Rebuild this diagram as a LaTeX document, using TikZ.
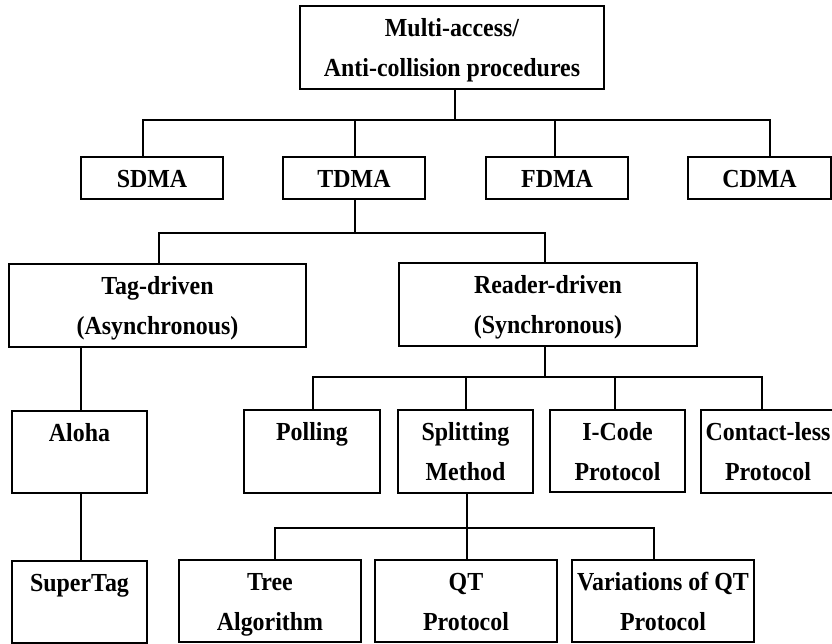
\documentclass[tikz,border=0pt]{standalone}
\usepackage{fontspec}
\setmainfont{Liberation Serif}[FakeStretch=0.92]
% box content: fixed width/height, text hung from the top edge
\newcommand{\boxtext}[3]{\parbox[c][#2][t]{#1}{\centering\fontsize{26}{40}\selectfont\bfseries\rule{0pt}{30.5pt}#3}}
\begin{document}
\begin{tikzpicture}[x=1pt,y=-1pt,
  box/.style={draw=black, line width=1.9pt, inner sep=0pt, outer sep=0pt, anchor=north west},
  link/.style={draw=black, line width=2.8pt, line cap=rect}]
\useasboundingbox (0,0) rectangle (832,644);

% level 0
\node[box] (root) at (300,6) {\boxtext{304pt}{83pt}{Multi-access/\\Anti-collision procedures}};
% level 1
\node[box] (sdma) at (81,157)  {\boxtext{142pt}{42pt}{SDMA}};
\node[box] (tdma) at (283,157) {\boxtext{142pt}{42pt}{TDMA}};
\node[box] (fdma) at (486,157) {\boxtext{142pt}{42pt}{FDMA}};
\node[box] (cdma) at (688,157) {\boxtext{143pt}{42pt}{CDMA}};
% level 2
\node[box] (tag)    at (9,264)   {\boxtext{297pt}{83pt}{Tag-driven\\(Asynchronous)}};
\node[box] (reader) at (399,263) {\boxtext{298pt}{83pt}{Reader-driven\\(Synchronous)}};
% level 3
\node[box] (aloha)   at (12,411)  {\boxtext{135pt}{82pt}{Aloha}};
\node[box] (polling) at (244,410) {\boxtext{136pt}{83pt}{Polling}};
\node[box] (split)   at (398,410) {\boxtext{135pt}{83pt}{Splitting\\Method}};
\node[box] (icode)   at (550,410) {\boxtext{135pt}{82pt}{I-Code\\Protocol}};
\node[box] (contact) at (701,410) {\boxtext{134pt}{83pt}{Contact-less\\Protocol}};
% level 4
\node[box] (supertag) at (12,561)  {\boxtext{135pt}{82pt}{SuperTag}};
\node[box] (tree)     at (179,560) {\boxtext{182pt}{82pt}{Tree\\Algorithm}};
\node[box] (qt)       at (375,560) {\boxtext{182pt}{82pt}{QT\\Protocol}};
\node[box] (varqt)    at (572,560) {\boxtext{182pt}{82pt}{Variations of QT\\Protocol}};

% fork under the root
\coordinate (r0) at (455,120);
\coordinate (r1) at (143,120);
\coordinate (r2) at (355,120);
\coordinate (r3) at (555,120);
\coordinate (r4) at (770,120);
\draw[link] (root.south -| r0) -- (r0);
\draw[link] (r1) -- (r4);
\draw[link] (r1) -- (r1 |- sdma.north);
\draw[link] (r2) -- (r2 |- tdma.north);
\draw[link] (r3) -- (r3 |- fdma.north);
\draw[link] (r4) -- (r4 |- cdma.north);

% fork under TDMA
\coordinate (t0) at (355,233);
\coordinate (t1) at (159,233);
\coordinate (t2) at (545,233);
\draw[link] (tdma.south -| t0) -- (t0);
\draw[link] (t1) -- (t2);
\draw[link] (t1) -- (t1 |- tag.north);
\draw[link] (t2) -- (t2 |- reader.north);

% tag-driven chain
\coordinate (a0) at (81,0);
\draw[link] (tag.south -| a0) -- (aloha.north -| a0);
\draw[link] (aloha.south -| a0) -- (supertag.north -| a0);

% fork under reader-driven
\coordinate (s0) at (545,377);
\coordinate (s1) at (313,377);
\coordinate (s2) at (466,377);
\coordinate (s3) at (615,377);
\coordinate (s4) at (762,377);
\draw[link] (reader.south -| s0) -- (s0);
\draw[link] (s1) -- (s4);
\draw[link] (s1) -- (s1 |- polling.north);
\draw[link] (s2) -- (s2 |- split.north);
\draw[link] (s3) -- (s3 |- icode.north);
\draw[link] (s4) -- (s4 |- contact.north);

% fork under splitting method
\coordinate (m0) at (467,528);
\coordinate (m1) at (275,528);
\coordinate (m2) at (654,528);
\draw[link] (split.south -| m0) -- (m0);
\draw[link] (m1) -- (m2);
\draw[link] (m1) -- (m1 |- tree.north);
\draw[link] (m0) -- (m0 |- qt.north);
\draw[link] (m2) -- (m2 |- varqt.north);
\end{tikzpicture}
\end{document}
